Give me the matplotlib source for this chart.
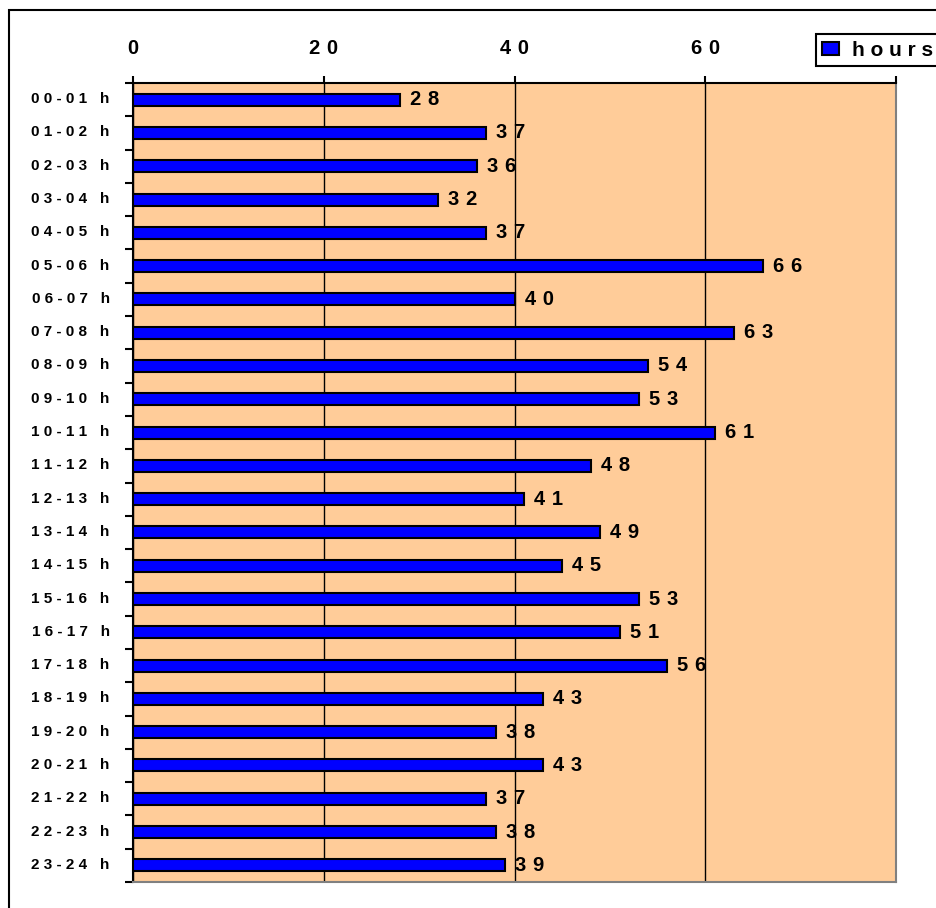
import numpy as np
import matplotlib as mpl
import matplotlib.pyplot as plt
from matplotlib.patches import Rectangle
from matplotlib.transforms import ScaledTranslation

mpl.rcParams['font.family'] = ['Liberation Sans', 'DejaVu Sans']
mpl.rcParams['font.weight'] = 'bold'

#
# Data: hours logged per time-of-day slot
#
slots = ['00-01 h', '01-02 h', '02-03 h', '03-04 h', '04-05 h', '05-06 h',
         '06-07 h', '07-08 h', '08-09 h', '09-10 h', '10-11 h', '11-12 h',
         '12-13 h', '13-14 h', '14-15 h', '15-16 h', '16-17 h', '17-18 h',
         '18-19 h', '19-20 h', '20-21 h', '21-22 h', '22-23 h', '23-24 h']
hours = [28, 37, 36, 32, 37, 66, 40, 63, 54, 53, 61, 48,
         41, 49, 45, 53, 51, 56, 43, 38, 43, 37, 38, 39]
xticks = [0, 20, 40, 60, 80]
xticklabels = ['0', '20', '40', '60', '']   # 80 sits under the legend
series_name = 'hours'


def spaced(s, gap=' '):
    ''' Spreads the characters of a string apart (letter spacing). '''
    return gap.join(s)


W, H = 936, 908
fig = plt.figure(figsize=(W / 100, H / 100), dpi=100)
fig.patch.set_facecolor('white')

# outer chart frame (runs off the right and bottom edges)
fig.patches.append(Rectangle((9 / W, -0.05), 1.1, 1 - 10 / H + 0.05,
                             transform=fig.transFigure, fill=False,
                             edgecolor='black', linewidth=1.5))

ax = fig.add_axes([133.3 / W, 1 - 882 / H, (896 - 133.3) / W, (882 - 83) / H])
ax.set_facecolor('#FFCC99')

y = np.arange(len(slots))
bars = ax.barh(y, hours, height=0.36, color='#0000FF', edgecolor='black',
               linewidth=1.5, zorder=3, label=spaced(series_name))

for i, v in enumerate(hours):
    ax.annotate(spaced(str(v), '\u2004'), xy=(v, i), xytext=(7.2, 0),
                textcoords='offset points', ha='left', va='center',
                fontsize=14.5, fontweight='bold', zorder=4)

ax.set_xlim(0, 80)
ax.set_ylim(len(slots) - 0.5, -0.5)

# value axis on top
ax.xaxis.tick_top()
ax.set_xticks(xticks, [spaced(t, '\u2004') for t in xticklabels])
ax.tick_params(axis='x', direction='out', length=5, width=1.5, pad=13,
               labelsize=14.5)
ax.xaxis.grid(True, color='black', linewidth=1)
ax.set_axisbelow(True)

# category axis: ticks between slots, labels at slot centres
ax.set_yticks(np.arange(-0.5, len(slots)), [])
ax.set_yticks(y, [spaced(s) for s in slots], minor=True)
ax.tick_params(axis='y', which='major', direction='out', length=6, width=1.5)
ax.tick_params(axis='y', which='minor', length=0, pad=17, labelsize=11)
lift = ScaledTranslation(0, 2 / 100, fig.dpi_scale_trans)
for lab in ax.get_yticklabels(minor=True):
    lab.set_transform(lab.get_transform() + lift)

ax.spines['top'].set_color('black')
ax.spines['left'].set_color('black')
ax.spines['right'].set_color('#808080')
ax.spines['bottom'].set_color('#808080')
for sp in ax.spines.values():
    sp.set_linewidth(1.5)

leg = ax.legend(loc='upper left', bbox_to_anchor=(816 / W, 1 - 34.3 / H),
                bbox_transform=fig.transFigure, borderaxespad=0,
                fancybox=False, framealpha=1, edgecolor='black',
                prop={'size': 15, 'weight': 'bold'}, borderpad=0.3,
                handlelength=0.8, handleheight=0.6, handletextpad=0.65)
leg.get_frame().set_linewidth(1.5)
leg.set_zorder(10)

fig.savefig('out.png', dpi=100)
